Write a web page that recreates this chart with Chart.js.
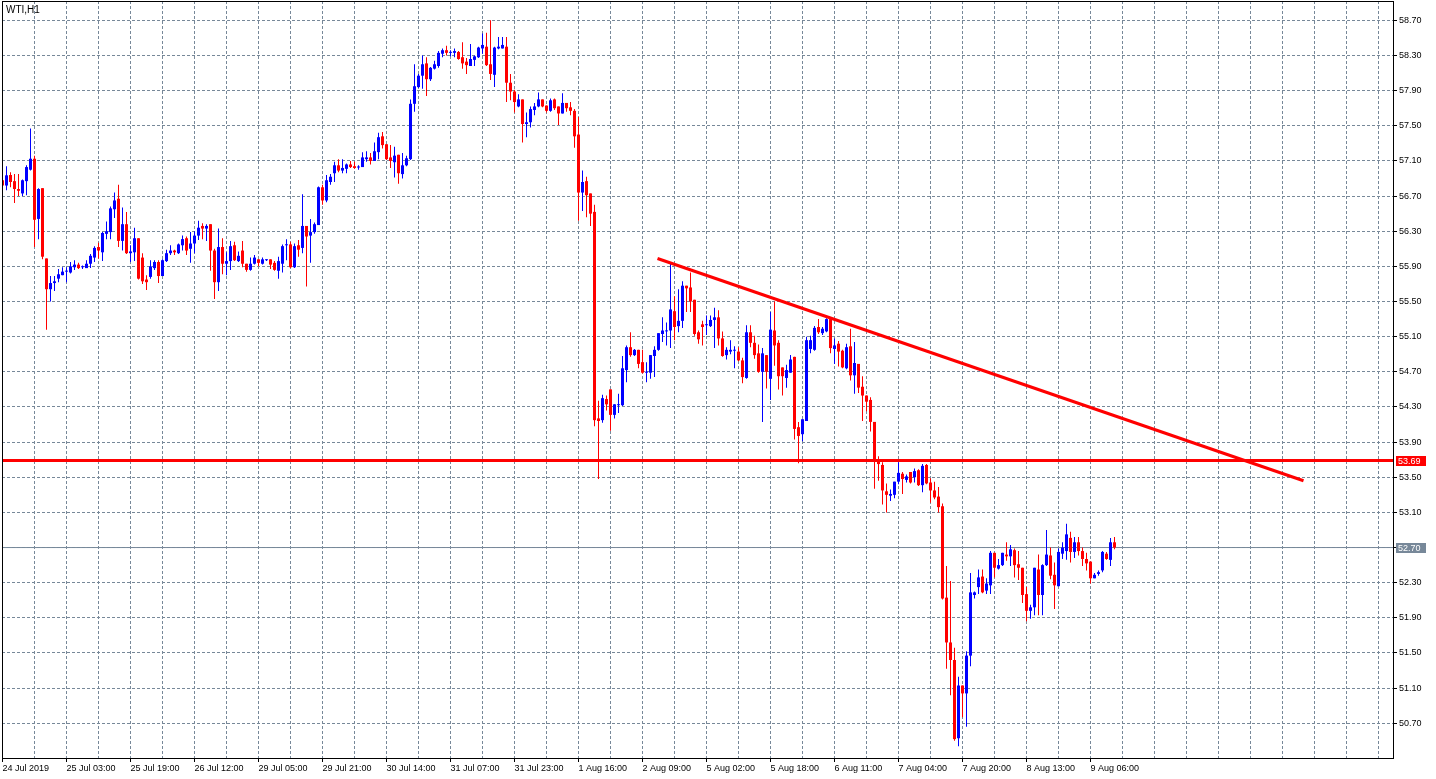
<!DOCTYPE html>
<html>
<head>
<meta charset="utf-8">
<title>WTI,H1</title>
<script src="https://cdn.jsdelivr.net/npm/chart.js@4.4.1/dist/chart.umd.min.js"></script>
<style>
    html, body { margin: 0; padding: 0; background: #fff; }
    canvas { display: block; }
</style>
</head>
<body>
<canvas id="chart" width="1436" height="779"></canvas>
<script>
// hourly candles (bar 0 = 24 Jul 2019)
const open = [
    56.88, 56.82, 56.94, 56.87, 56.78, 56.73, 56.87, 57.00, 57.125, 56.44,
    56.79, 55.99, 55.64, 55.71, 55.76, 55.80, 55.84, 55.83, 55.89, 55.92,
    55.89, 55.88, 55.93, 56.00, 56.12, 56.06, 56.27, 56.29, 56.55, 56.67,
    56.19, 56.38, 56.05, 56.06, 56.22, 56.00, 55.75, 55.78, 55.88, 55.95,
    55.79, 55.96, 56.05, 56.08, 56.05, 56.14, 56.22, 56.10, 56.16, 56.25,
    56.36, 56.33, 56.38, 56.08, 55.72, 56.12, 55.93, 55.96, 56.14, 55.96,
    56.08, 55.93, 55.86, 55.93, 55.98, 55.93, 55.97, 55.98, 55.94, 55.85,
    55.93, 56.14, 56.15, 55.89, 56.14, 56.11, 56.36, 56.25, 56.29, 56.37,
    56.80, 56.65, 56.86, 56.96, 57.05, 56.99, 57.01, 57.06, 57.04, 57.025,
    57.03, 57.12, 57.14, 57.10, 57.20, 57.38, 57.29, 57.14, 57.085, 57.17,
    56.95, 57.05, 57.12, 57.75, 57.94, 58.07, 58.21, 58.03, 58.15, 58.18,
    58.32, 58.36, 58.33, 58.33, 58.34, 58.28, 58.23, 58.18, 58.25, 58.28,
    58.38, 58.40, 58.20, 58.08, 58.38, 58.38, 58.40, 57.99, 57.89, 57.72,
    57.80, 57.52, 57.54, 57.68, 57.72, 57.80, 57.73, 57.67, 57.80, 57.72,
    57.64, 57.76, 57.71, 57.67, 57.40, 56.74, 56.87, 56.73, 56.52, 54.17,
    54.15, 54.39, 54.50, 54.21, 54.32, 54.32, 54.72, 54.98, 54.89, 54.95,
    54.81, 54.69, 54.69, 54.88, 54.95, 55.13, 55.16, 55.17, 55.39, 55.22,
    55.28, 55.68, 55.66, 55.52, 55.15, 55.24, 55.23, 55.22, 55.29, 55.32,
    55.08, 54.89, 54.93, 54.94, 54.93, 54.83, 54.63, 55.15, 55.03, 54.91,
    54.70, 54.89, 54.62, 55.17, 55.03, 54.75, 54.63, 54.69, 54.87, 54.07,
    53.99, 54.14, 54.96, 54.95, 55.21, 55.14, 55.16, 55.30, 54.96, 55.02,
    54.94, 54.74, 54.99, 54.66, 54.79, 54.53, 54.43, 54.38, 54.13, 53.69,
    53.64, 53.34, 53.29, 53.30, 53.45, 53.54, 53.47, 53.56, 53.50, 53.58,
    53.41, 53.64, 53.44, 53.35, 53.28, 53.17, 52.13, 51.62, 51.42, 50.53,
    51.13, 51.04, 51.47, 52.16, 52.25, 52.37, 52.21, 52.27, 52.64, 52.46,
    52.50, 52.62, 52.60, 52.67, 52.51, 52.47, 52.17, 51.98, 52.02, 52.45,
    52.16, 52.50, 52.61, 52.39, 52.26, 52.63, 52.66, 52.81, 52.65, 52.76,
    52.66, 52.57, 52.54, 52.35, 52.40, 52.44, 52.63, 52.56, 52.76
];
const high = [
    56.92, 57.04, 56.97, 56.95, 56.95, 56.89, 57.05, 57.47, 57.16, 56.79,
    56.79, 55.99, 55.79, 55.79, 55.87, 55.89, 55.89, 55.95, 55.97, 55.94,
    55.91, 55.97, 56.04, 56.13, 56.17, 56.29, 56.41, 56.58, 56.74, 56.83,
    56.57, 56.52, 56.14, 56.34, 56.22, 56.05, 55.80, 55.97, 55.97, 55.97,
    55.98, 56.09, 56.14, 56.09, 56.16, 56.25, 56.24, 56.29, 56.30, 56.42,
    56.39, 56.38, 56.38, 56.10, 56.33, 56.22, 56.06, 56.19, 56.18, 56.07,
    56.19, 55.93, 56.00, 56.03, 55.98, 56.00, 55.98, 55.98, 55.96, 56.01,
    56.15, 56.21, 56.18, 56.16, 56.20, 56.72, 56.36, 56.44, 56.40, 56.81,
    56.83, 56.94, 56.95, 57.09, 57.12, 57.12, 57.07, 57.10, 57.09, 57.05,
    57.20, 57.21, 57.19, 57.31, 57.42, 57.43, 57.29, 57.28, 57.26, 57.17,
    57.19, 57.16, 57.80, 58.20, 58.09, 58.30, 58.28, 58.17, 58.24, 58.35,
    58.38, 58.41, 58.36, 58.38, 58.35, 58.45, 58.27, 58.43, 58.30, 58.40,
    58.55, 58.56, 58.70, 58.40, 58.51, 58.51, 58.51, 58.09, 57.91, 57.86,
    57.80, 57.65, 57.72, 57.76, 57.88, 57.80, 57.73, 57.81, 57.81, 57.72,
    57.87, 57.76, 57.77, 57.69, 57.60, 56.99, 56.92, 56.73, 56.60, 54.37,
    54.44, 54.43, 54.50, 54.33, 54.45, 54.88, 55.00, 55.15, 54.96, 54.95,
    54.95, 54.81, 54.89, 54.99, 55.14, 55.32, 55.26, 55.93, 55.56, 55.64,
    55.73, 55.68, 55.83, 55.52, 55.17, 55.28, 55.34, 55.34, 55.43, 55.40,
    55.16, 54.98, 55.06, 54.99, 54.98, 54.86, 55.23, 55.23, 55.11, 55.01,
    54.97, 54.89, 55.38, 55.50, 55.06, 54.75, 54.78, 54.89, 54.87, 54.13,
    54.16, 55.10, 55.11, 55.22, 55.30, 55.21, 55.31, 55.32, 55.08, 55.05,
    54.95, 55.02, 55.19, 55.04, 54.79, 54.65, 54.43, 54.41, 54.13, 53.74,
    53.67, 53.43, 53.36, 53.45, 53.67, 53.56, 53.53, 53.56, 53.60, 53.59,
    53.65, 53.65, 53.49, 53.45, 53.39, 53.20, 52.49, 52.32, 51.56, 51.23,
    51.13, 51.52, 52.41, 52.20, 52.45, 52.45, 52.35, 52.66, 52.64, 52.57,
    52.64, 52.76, 52.73, 52.69, 52.66, 52.47, 52.25, 52.05, 52.47, 52.62,
    52.51, 52.90, 52.70, 52.53, 52.69, 52.76, 52.97, 52.88, 52.82, 52.82,
    52.70, 52.64, 52.54, 52.41, 52.44, 52.66, 52.65, 52.81, 52.82
];
const low = [
    56.78, 56.765, 56.80, 56.62, 56.70, 56.70, 56.71, 56.99, 56.12, 56.21,
    55.98, 55.18, 55.50, 55.62, 55.72, 55.80, 55.72, 55.82, 55.86, 55.87,
    55.87, 55.88, 55.88, 55.95, 55.99, 55.96, 56.21, 56.21, 56.45, 56.12,
    56.08, 56.04, 55.95, 55.96, 55.75, 55.70, 55.63, 55.76, 55.86, 55.71,
    55.79, 55.95, 56.03, 56.03, 56.04, 56.08, 56.03, 55.94, 56.05, 56.20,
    56.21, 56.19, 55.85, 55.53, 55.62, 55.81, 55.80, 55.86, 55.96, 55.95,
    55.89, 55.84, 55.85, 55.92, 55.90, 55.92, 55.96, 55.87, 55.85, 55.76,
    55.83, 55.97, 55.88, 55.88, 56.01, 56.05, 55.67, 55.94, 56.27, 56.37,
    56.60, 56.63, 56.83, 56.86, 56.97, 56.96, 56.96, 57.02, 57.01, 57.00,
    57.03, 57.09, 57.06, 57.10, 57.12, 57.24, 57.11, 57.02, 56.91, 56.84,
    56.90, 57.04, 57.11, 57.66, 57.93, 57.92, 57.84, 58.01, 58.14, 58.16,
    58.28, 58.30, 58.29, 58.28, 58.25, 58.15, 58.09, 58.18, 58.18, 58.27,
    58.32, 58.18, 58.02, 57.94, 58.37, 58.38, 57.77, 57.79, 57.65, 57.71,
    57.31, 57.37, 57.48, 57.62, 57.71, 57.71, 57.65, 57.66, 57.68, 57.51,
    57.64, 57.66, 57.62, 57.25, 56.42, 56.53, 56.46, 56.36, 54.08, 53.48,
    54.12, 54.26, 54.03, 54.17, 54.23, 54.31, 54.58, 54.87, 54.88, 54.74,
    54.68, 54.58, 54.62, 54.64, 54.94, 55.04, 55.00, 54.97, 55.06, 55.15,
    55.20, 55.38, 55.38, 55.11, 55.02, 55.00, 55.12, 55.21, 54.97, 55.00,
    54.87, 54.84, 54.90, 54.74, 54.82, 54.57, 54.62, 54.98, 54.85, 54.69,
    54.13, 54.51, 54.38, 54.77, 54.50, 54.43, 54.52, 54.69, 53.93, 53.66,
    53.91, 54.14, 54.91, 54.94, 55.13, 55.12, 55.15, 54.91, 54.79, 54.76,
    54.74, 54.73, 54.60, 54.45, 54.46, 54.14, 54.25, 54.02, 53.37, 53.46,
    53.19, 53.10, 53.23, 53.26, 53.42, 53.31, 53.44, 53.43, 53.44, 53.40,
    53.33, 53.42, 53.21, 53.25, 53.10, 52.11, 51.32, 51.02, 50.50, 50.44,
    50.77, 50.66, 51.35, 52.12, 52.17, 52.18, 52.17, 52.17, 52.36, 52.45,
    52.49, 52.55, 52.49, 52.36, 52.33, 52.07, 51.86, 51.89, 51.93, 51.93,
    51.93, 52.49, 52.34, 52.00, 52.26, 52.57, 52.56, 52.53, 52.58, 52.61,
    52.49, 52.44, 52.29, 52.35, 52.38, 52.42, 52.56, 52.49, 52.68
];
const close = [
    56.82, 56.936, 56.86, 56.78, 56.76, 56.88, 57.03, 57.125, 56.43, 56.78,
    56.01, 55.64, 55.71, 55.73, 55.81, 55.84, 55.845, 55.90, 55.92, 55.88,
    55.90, 55.93, 56.02, 56.11, 56.08, 56.28, 56.30, 56.56, 56.65, 56.19,
    56.38, 56.05, 56.07, 56.22, 55.76, 55.73, 55.72, 55.90, 55.95, 55.79,
    55.97, 56.05, 56.08, 56.06, 56.15, 56.21, 56.08, 56.16, 56.25, 56.34,
    56.33, 56.36, 56.08, 55.72, 56.12, 55.93, 55.96, 56.13, 55.97, 56.02,
    55.93, 55.86, 55.93, 56.00, 55.94, 55.98, 55.98, 55.92, 55.86, 55.96,
    56.13, 56.145, 55.89, 56.13, 56.09, 56.36, 56.24, 56.29, 56.38, 56.80,
    56.65, 56.88, 56.92, 57.05, 56.99, 57.02, 57.06, 57.03, 57.02, 57.035,
    57.14, 57.14, 57.10, 57.21, 57.37, 57.28, 57.12, 57.10, 57.16, 56.96,
    57.05, 57.13, 57.75, 57.95, 58.07, 58.20, 58.03, 58.16, 58.20, 58.33,
    58.36, 58.33, 58.34, 58.35, 58.26, 58.21, 58.19, 58.26, 58.29, 58.39,
    58.42, 58.19, 58.09, 58.39, 58.40, 58.42, 57.99, 57.89, 57.77, 57.80,
    57.52, 57.54, 57.69, 57.72, 57.80, 57.72, 57.67, 57.79, 57.70, 57.64,
    57.76, 57.70, 57.67, 57.38, 56.74, 56.86, 56.71, 56.50, 54.15, 54.14,
    54.40, 54.33, 54.21, 54.33, 54.33, 54.74, 54.98, 54.89, 54.95, 54.79,
    54.69, 54.70, 54.89, 54.95, 55.14, 55.17, 55.17, 55.41, 55.21, 55.28,
    55.68, 55.65, 55.50, 55.13, 55.07, 55.21, 55.24, 55.29, 55.32, 55.08,
    54.88, 54.95, 54.95, 54.945, 54.83, 54.64, 55.15, 55.03, 54.89, 54.70,
    54.91, 54.70, 55.18, 55.00, 54.65, 54.65, 54.72, 54.84, 54.05, 53.97,
    54.16, 55.06, 55.06, 55.20, 55.15, 55.19, 55.30, 54.97, 55.00, 54.93,
    54.75, 54.98, 54.66, 54.80, 54.52, 54.43, 54.36, 54.13, 53.69, 53.65,
    53.35, 53.30, 53.31, 53.45, 53.55, 53.48, 53.51, 53.44, 53.57, 53.41,
    53.63, 53.43, 53.35, 53.27, 53.16, 52.12, 51.62, 51.42, 50.52, 51.13,
    51.04, 51.47, 52.19, 52.19, 52.36, 52.19, 52.29, 52.64, 52.47, 52.50,
    52.64, 52.60, 52.68, 52.50, 52.47, 52.16, 51.98, 52.02, 52.47, 52.16,
    52.50, 52.62, 52.38, 52.27, 52.65, 52.70, 52.85, 52.65, 52.76, 52.66,
    52.57, 52.52, 52.35, 52.39, 52.42, 52.65, 52.57, 52.76, 52.70
];

// one label every 16 bars, starting at bar 0
const xLabels = [
    '24 Jul 2019', '25 Jul 03:00', '25 Jul 19:00', '26 Jul 12:00', '29 Jul 05:00',
    '29 Jul 21:00', '30 Jul 14:00', '31 Jul 07:00', '31 Jul 23:00', '1 Aug 16:00',
    '2 Aug 09:00', '5 Aug 02:00', '5 Aug 18:00', '6 Aug 11:00', '7 Aug 04:00',
    '7 Aug 20:00', '8 Aug 13:00', '9 Aug 06:00'
];
const yTicks = [
    50.70, 51.10, 51.50, 51.90, 52.30, 52.70, 53.10, 53.50, 53.90, 54.30,
    54.70, 55.10, 55.50, 55.90, 56.30, 56.70, 57.10, 57.50, 57.90, 58.30, 58.70
];

const symbol = 'WTI,H1';
const bidPrice = 52.70;
const levelPrice = 53.69;
// trend line anchors: [bar, price]
const trendFrom = [163.75, 55.99];
const trendTo = [325.25, 53.46];

const UP = '#0000ff';
const DOWN = '#ff0000';
const GRID = '#778899';
const FONT = 'Tahoma, "Liberation Sans", Arial, sans-serif';
const LABEL_STEP = 16;
const GRID_STEP = 8;

const bars = open.map((_, i) => i);
const candleColors = bars.map(i => close[i] >= open[i] ? UP : DOWN);

const gridBars = [];
for (let i = 0; i <= 344; i += GRID_STEP) gridBars.push(i);

function barLabel(value) {
    if (value % LABEL_STEP !== 0) return '';
    return xLabels[value / LABEL_STEP] || '';
}

function flatLine(price) {
    return [{x: -10, y: price}, {x: 400, y: price}];
}

function priceTag(ctx, x, y, text, color) {
    ctx.fillStyle = color;
    ctx.fillRect(x, Math.round(y) - 5, 30, 10);
    ctx.fillStyle = '#fff';
    ctx.font = '9px ' + FONT;
    ctx.textAlign = 'left';
    ctx.textBaseline = 'middle';
    ctx.fillText(text, x + 2, Math.round(y) + 0.5);
}

// frame, symbol caption and right-side price tags
const frame = {
    id: 'frame',
    afterDraw(chart) {
        const {ctx, chartArea: a, scales: {y}} = chart;
        ctx.save();
        ctx.strokeStyle = '#000';
        ctx.lineWidth = 1;
        ctx.strokeRect(a.left + 0.5, a.top + 0.5, a.right - a.left, a.bottom - a.top);

        ctx.fillStyle = '#000';
        ctx.font = '10px ' + FONT;
        ctx.textBaseline = 'alphabetic';
        ctx.fillText(symbol, a.left + 4, a.top + 12);

        priceTag(ctx, a.right + 3, y.getPixelForValue(levelPrice), levelPrice.toFixed(2), '#ff0000');
        priceTag(ctx, a.right + 3, y.getPixelForValue(bidPrice), bidPrice.toFixed(2), GRID);
        ctx.restore();
    }
};

const datasets = [
    {
        type: 'line',
        data: flatLine(bidPrice),
        borderColor: GRID,
        borderWidth: 1,
        pointRadius: 0,
        clip: 0,
        order: 4,
    },
    {
        data: bars.map(i => ({x: i, y: [low[i], high[i]]})),
        backgroundColor: candleColors,
        barThickness: 1,
        grouped: false,
        inflateAmount: 0,
        borderWidth: 0,
        clip: 0,
        order: 3,
    },
    {
        data: bars.map(i => ({x: i, y: [open[i], close[i]]})),
        backgroundColor: candleColors,
        barThickness: 3,
        minBarLength: 1,
        grouped: false,
        inflateAmount: 0,
        borderWidth: 0,
        clip: 0,
        order: 2,
    },
    {
        type: 'line',
        data: flatLine(levelPrice),
        borderColor: '#ff0000',
        borderWidth: 3,
        pointRadius: 0,
        clip: 0,
        order: 1,
    },
    {
        type: 'line',
        data: [{x: trendFrom[0], y: trendFrom[1]}, {x: trendTo[0], y: trendTo[1]}],
        borderColor: '#ff0000',
        borderWidth: 3,
        pointRadius: 0,
        clip: 0,
        order: 0,
    },
];

new Chart(document.getElementById('chart'), {
    type: 'bar',
    data: {datasets},
    options: {
        responsive: false,
        animation: false,
        devicePixelRatio: 1,
        events: [],
        layout: {padding: {left: 2, top: 1, right: 0, bottom: 0}},
        plugins: {
            legend: {display: false},
            tooltip: {enabled: false},
        },
        scales: {
            x: {
                type: 'linear',
                min: -0.125,
                max: 347.625,
                offset: false,
                grid: {
                    offset: false,
                    color: GRID,
                    lineWidth: 1,
                    tickLength: 4,
                    tickColor: c => (c.tick && barLabel(c.tick.value)) ? '#000' : 'rgba(0,0,0,0)',
                },
                border: {display: true, color: 'rgba(0,0,0,0)', dash: [3, 2]},
                ticks: {
                    autoSkip: false,
                    maxRotation: 0,
                    minRotation: 0,
                    align: 'start',
                    padding: 1,
                    color: '#000',
                    font: {family: FONT, size: 9},
                    callback: v => barLabel(v),
                },
                afterBuildTicks: scale => {
                    scale.ticks = gridBars.map(v => ({value: v}));
                },
                afterFit: scale => {
                    scale.height = 21;
                    scale.paddingLeft = 0;
                    scale.paddingRight = 0;
                },
            },
            y: {
                position: 'right',
                min: 50.305,
                max: 58.92,
                beginAtZero: false,
                grid: {
                    color: GRID,
                    lineWidth: 1,
                    tickLength: 4,
                    tickColor: '#000',
                },
                border: {display: true, color: 'rgba(0,0,0,0)', dash: [3, 2]},
                ticks: {
                    padding: 2,
                    color: '#000',
                    font: {family: FONT, size: 9},
                    callback: v => Number(v).toFixed(2),
                },
                afterBuildTicks: scale => {
                    scale.ticks = yTicks.map(v => ({value: v}));
                },
                afterFit: scale => {
                    scale.width = 43;
                    scale.paddingTop = 0;
                    scale.paddingBottom = 0;
                },
            },
        },
    },
    plugins: [frame],
});
</script>
</body>
</html>
